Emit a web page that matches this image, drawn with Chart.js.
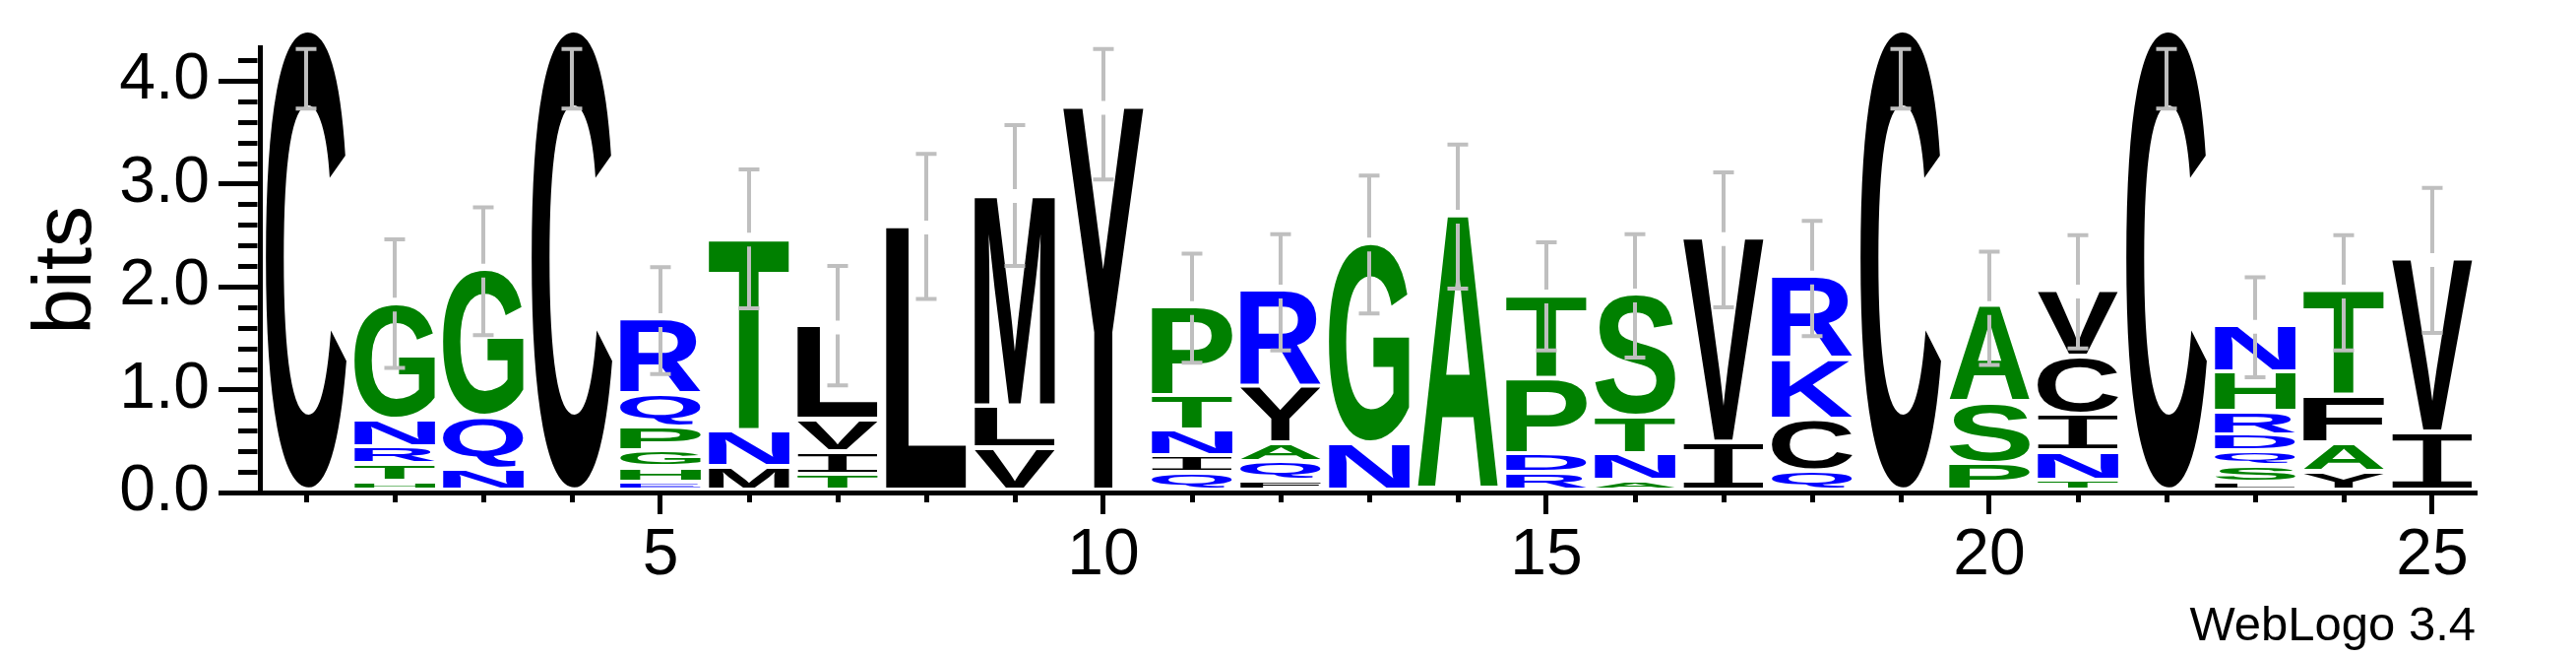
<!DOCTYPE html>
<html lang="en">
<head>
    <meta charset="UTF-8">
    <title>WebLogo 3.4</title>
    <style>
        body {
            margin: 0;
            padding: 0;
            background-color: #ffffff;
        }
        canvas {
            display: block;
        }
    </style>
    <script src="https://cdn.jsdelivr.net/npm/chart.js"></script>
</head>
<body>

<canvas id="logoChart" width="2617" height="667"></canvas>

<script>
    // Sequence positions and the letters stacked at each one (listed top to bottom)
    const positions = [1, 2, 3, 4, 5, 6, 7, 8, 9, 10, 11, 12, 13, 14, 15, 16, 17, 18, 19, 20, 21, 22, 23, 24, 25];
    const stackLetters = ['C', 'GNRTH', 'GQN', 'C', 'RQPGHE', 'TNM', 'LVIT', 'L', 'MLV', 'Y',
        'PTNIQ', 'RYAQF', 'GN', 'A', 'TPDR', 'STNA', 'VI', 'RKCQ', 'C', 'ASP',
        'VCINT', 'C', 'NHRDQSL', 'TFAY', 'VI'];
    // Letter heights in bits, same order as stackLetters
    const stackHeights = [
        [4.48],
        [1.13, 0.265, 0.17, 0.17, 0.09],
        [1.435, 0.51, 0.21],
        [4.48],
        [0.734, 0.313, 0.239, 0.159, 0.144, 0.086],
        [1.872, 0.351, 0.233],
        [0.909, 0.313, 0.223, 0.159],
        [2.574],
        [2.057, 0.408, 0.415],
        [3.738],
        [0.868, 0.335, 0.249, 0.166, 0.175],
        [0.938, 0.552, 0.182, 0.185, 0.096],
        [1.946, 0.463],
        [2.679],
        [0.81, 0.734, 0.185, 0.175],
        [1.187, 0.367, 0.265, 0.096],
        [1.99, 0.472],
        [0.804, 0.59, 0.504, 0.191],
        [4.48],
        [0.938, 0.59, 0.265],
        [0.644, 0.565, 0.36, 0.281, 0.102],
        [4.48],
        [0.456, 0.383, 0.23, 0.159, 0.144, 0.159, 0.08],
        [1.027, 0.463, 0.278, 0.185],
        [1.691, 0.568]
    ];
    // Error bar ends in bits
    const errHigh = [4.31, 2.46, 2.77, 4.31, 2.19, 3.14, 2.20, 3.29, 3.57, 4.31,
        2.32, 2.51, 3.08, 3.38, 2.43, 2.51, 3.11, 2.64, 4.31, 2.34,
        2.50, 4.31, 2.09, 2.50, 2.96];
    const errLow = [3.73, 1.21, 1.53, 3.73, 1.15, 1.79, 1.04, 1.88, 2.20, 3.04,
        1.26, 1.38, 1.74, 1.98, 1.38, 1.31, 1.80, 1.52, 3.73, 1.24,
        1.40, 3.73, 1.12, 1.38, 1.55];
    const yMajorTicks = [0, 1, 2, 3, 4];
    const yMinorStep = 0.2;
    const xLabeled = [5, 10, 15, 20, 25];

    // Hydrophobicity colour scheme
    function letterColor(ch) {
        if ('RKDENQ'.includes(ch)) return '#0000ff';
        if ('SGHTAP'.includes(ch)) return '#008000';
        return '#000000';
    }

    // Build one dataset per stack layer, counted from the bottom
    const depth = Math.max(...stackLetters.map(s => s.length));
    const datasets = [];
    for (let k = 0; k < depth; k++) {
        const letters = [];
        const data = positions.map((p, i) => {
            const s = stackLetters[i];
            const j = s.length - 1 - k;
            letters.push(j >= 0 ? s[j] : '');
            return { x: p, y: j >= 0 ? stackHeights[i][j] : 0 };
        });
        datasets.push({
            label: 'layer ' + (k + 1),
            data: data,
            letters: letters,
            backgroundColor: 'rgba(0,0,0,0)',
            borderWidth: 0,
            barPercentage: 0.91,
            categoryPercentage: 1.0
        });
    }

    const GAP = 4.5; // white gap under each glyph, px

    function drawGlyph(ctx, ch, left, top, w, h) {
        if (h < 0.5) return;
        ctx.save();
        // the logo's I has serifs, closest to a monospace I
        ctx.font = ch === 'I'
            ? '200px "Liberation Mono", "DejaVu Sans Mono", monospace'
            : 'bold 200px "Liberation Sans", Arial, sans-serif';
        const m = ctx.measureText(ch);
        const gw = m.actualBoundingBoxLeft + m.actualBoundingBoxRight;
        const gh = m.actualBoundingBoxAscent + m.actualBoundingBoxDescent;
        ctx.translate(left, top);
        ctx.scale(w / gw, h / gh);
        ctx.fillStyle = letterColor(ch);
        ctx.textAlign = 'left';
        ctx.textBaseline = 'alphabetic';
        ctx.fillText(ch, m.actualBoundingBoxLeft, m.actualBoundingBoxAscent);
        ctx.restore();
    }

    const logoPlugin = {
        id: 'logo',
        afterDatasetsDraw(chart) {
            const ctx = chart.ctx;
            const xs = chart.scales.x;
            const ys = chart.scales.y;

            // letters
            chart.data.datasets.forEach((ds, di) => {
                const meta = chart.getDatasetMeta(di);
                meta.data.forEach((bar, i) => {
                    const ch = ds.letters[i];
                    if (!ch) return;
                    const p = bar.getProps(['x', 'y', 'base', 'width'], true);
                    drawGlyph(ctx, ch, p.x - p.width / 2, p.y, p.width, p.base - p.y - GAP);
                });
            });

            // error bars, split around the top of the stack
            ctx.save();
            ctx.strokeStyle = '#bfbfbf';
            ctx.lineWidth = 4;
            positions.forEach((p, i) => {
                const total = stackHeights[i].reduce((a, b) => a + b, 0);
                const cx = xs.getPixelForValue(p);
                const yHi = ys.getPixelForValue(errHigh[i]);
                const yLo = ys.getPixelForValue(errLow[i]);
                const yTop = ys.getPixelForValue(total);
                const g0 = yTop - 7, g1 = yTop + 7;
                ctx.beginPath();
                if (g0 > yHi) { ctx.moveTo(cx, yHi); ctx.lineTo(cx, Math.min(g0, yLo)); }
                if (g1 < yLo) { ctx.moveTo(cx, Math.max(g1, yHi)); ctx.lineTo(cx, yLo); }
                ctx.moveTo(cx - 10.5, yHi); ctx.lineTo(cx + 10.5, yHi);
                ctx.moveTo(cx - 10.5, yLo); ctx.lineTo(cx + 10.5, yLo);
                ctx.stroke();
            });
            ctx.restore();
        },
        afterDraw(chart) {
            const ctx = chart.ctx;
            const xs = chart.scales.x;
            const ys = chart.scales.y;
            const area = chart.chartArea;
            ctx.save();
            ctx.strokeStyle = '#000';
            ctx.lineWidth = 5;
            ctx.beginPath();
            // minor y ticks
            for (let v = yMinorStep; v < ys.max; v += yMinorStep) {
                if (Math.abs(v - Math.round(v)) < 1e-6) continue;
                const y = Math.round(ys.getPixelForValue(v)) + 0.5;
                ctx.moveTo(area.left - 22, y);
                ctx.lineTo(area.left - 2.5, y);
            }
            // minor x ticks
            positions.forEach(p => {
                if (xLabeled.includes(p)) return;
                const x = Math.round(xs.getPixelForValue(p)) + 0.5;
                ctx.moveTo(x, area.bottom + 2.5);
                ctx.lineTo(x, area.bottom + 10);
            });
            ctx.stroke();

            ctx.fillStyle = '#000';
            ctx.font = '49px "Liberation Sans", Arial, sans-serif';
            ctx.textAlign = 'right';
            ctx.textBaseline = 'alphabetic';
            ctx.fillText('WebLogo 3.4', 2515, 650);
            ctx.restore();
        }
    };

    const tickFont = { family: '"Liberation Sans", Arial, sans-serif', size: 66 };

    new Chart(document.getElementById('logoChart'), {
        type: 'bar',
        data: { datasets: datasets },
        options: {
            responsive: false,
            animation: false,
            devicePixelRatio: 1,
            layout: { padding: { top: 48.6, right: 101, left: 0, bottom: 0 } },
            plugins: {
                legend: { display: false },
                tooltip: { enabled: false }
            },
            scales: {
                x: {
                    type: 'linear',
                    offset: false,
                    stacked: true,
                    min: 0.478,
                    max: 25.5,
                    afterBuildTicks: (scale) => { scale.ticks = positions.map(v => ({ value: v })); },
                    afterFit: (scale) => { scale.height = 167; },
                    grid: {
                        offset: false,
                        drawOnChartArea: false,
                        tickLength: 22,
                        tickWidth: 5,
                        tickColor: (c) => (c.tick && xLabeled.includes(c.tick.value)) ? '#000' : 'rgba(0,0,0,0)'
                    },
                    border: { display: true, color: '#000', width: 5 },
                    ticks: {
                        autoSkip: false,
                        maxRotation: 0,
                        padding: 3,
                        color: '#000',
                        font: tickFont,
                        callback: (v) => xLabeled.includes(v) ? String(v) : ''
                    }
                },
                y: {
                    stacked: true,
                    min: 0,
                    max: 4.32,
                    afterBuildTicks: (scale) => { scale.ticks = yMajorTicks.map(v => ({ value: v })); },
                    afterFit: (scale) => { scale.width = 264; },
                    grid: {
                        drawOnChartArea: false,
                        tickLength: 42,
                        tickWidth: 5,
                        tickColor: '#000'
                    },
                    border: { display: true, color: '#000', width: 5 },
                    title: {
                        display: true,
                        text: 'bits',
                        color: '#000',
                        font: { family: '"Liberation Sans", Arial, sans-serif', size: 84 },
                        padding: { top: 18, bottom: 0 }
                    },
                    ticks: {
                        autoSkip: false,
                        padding: 9,
                        color: '#000',
                        font: tickFont,
                        callback: (v) => v.toFixed(1)
                    }
                }
            }
        },
        plugins: [logoPlugin]
    });
</script>

</body>
</html>
